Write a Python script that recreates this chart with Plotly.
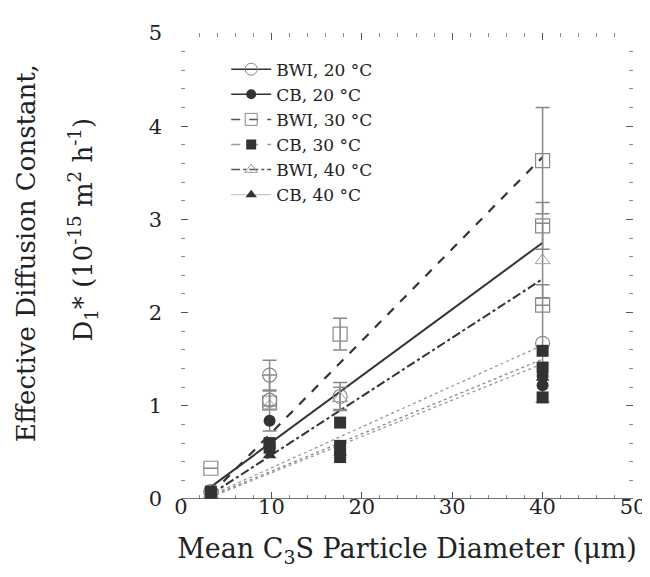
import plotly.graph_objects as go

# ---- data ----
diam = [3.3, 9.8, 17.6, 40.0]

bwi20_x = [3.3, 9.8, 9.8, 17.6, 40.0]
bwi20_y = [0.08, 1.33, 1.06, 1.10, 1.67]
bwi20_e = [0.0, 0.16, 0.10, 0.15, 0.63]

cb20_x = [3.3, 9.8, 17.6, 40.0, 40.0]
cb20_y = [0.05, 0.84, 0.50, 1.32, 1.22]

bwi30_x = [3.3, 9.8, 17.6, 40.0, 40.0, 40.0]
bwi30_y = [0.33, 1.03, 1.77, 3.63, 2.93, 2.08]
bwi30_e = [0.0, 0.30, 0.17, 0.57, 0.25, 0.0]

cb30_x = [3.3, 9.8, 9.8, 17.6, 17.6, 17.6, 40.0, 40.0, 40.0]
cb30_y = [0.08, 0.60, 0.55, 0.82, 0.57, 0.45, 1.59, 1.41, 1.09]

bwi40_x = [3.3, 9.8, 17.6, 40.0]
bwi40_y = [0.05, 1.00, 1.08, 2.56]
bwi40_e = [0.0, 0.0, 0.12, 0.40]

cb40_x = [3.3, 9.8, 17.6, 40.0]
cb40_y = [0.03, 0.47, 0.50, 1.30]

# linear fits: value at first and last diameter
fit_x = [3.3, 40.0]
fit_bwi20 = [0.13, 2.75]
fit_cb20 = [0.04, 1.65]
fit_bwi30 = [0.05, 3.67]
fit_cb30 = [0.03, 1.50]
fit_bwi40 = [0.05, 2.36]
fit_cb40 = [0.02, 1.45]

x_ticks = [0, 10, 20, 30, 40, 50]
y_ticks = [0, 1, 2, 3, 4, 5]

FONT = "DejaVu Serif"
TXT = "#222222"
fig = go.Figure()

# fits
fits = [
    (fit_bwi20, dict(color="#333333", width=2, dash="solid")),
    (fit_bwi30, dict(color="#333333", width=2.2, dash="dash")),
    (fit_bwi40, dict(color="#333333", width=2, dash="dashdot")),
    (fit_cb20, dict(color="#999999", width=1.3, dash="dot")),
    (fit_cb30, dict(color="#888888", width=1.3, dash="dot")),
    (fit_cb40, dict(color="#999999", width=1.3, dash="dot")),
]
for fy, ln in fits:
    fig.add_trace(go.Scatter(x=fit_x, y=fy, mode="lines", line=ln,
                             showlegend=False, hoverinfo="skip"))

# data points
pts = [
    (bwi20_x, bwi20_y, bwi20_e, dict(symbol="circle-open", size=14, color="#8a8a8a", line=dict(width=1.2))),
    (bwi30_x, bwi30_y, bwi30_e, dict(symbol="square-open", size=14, color="#8a8a8a", line=dict(width=1.2))),
    (bwi40_x, bwi40_y, bwi40_e, dict(symbol="triangle-up-open", size=13, color="#a0a0a0", line=dict(width=1))),
    (cb20_x, cb20_y, None, dict(symbol="circle", size=12, color="#333333")),
    (cb30_x, cb30_y, None, dict(symbol="square", size=12, color="#333333")),
    (cb40_x, cb40_y, None, dict(symbol="triangle-up", size=12, color="#333333")),
]
for px, py, pe, mk in pts:
    ey = None
    if pe is not None:
        ey = dict(type="data", array=pe, visible=True, color="#888888", thickness=1.5, width=7)
    fig.add_trace(go.Scatter(x=px, y=py, mode="markers", marker=mk, error_y=ey,
                             showlegend=False))

# legend entries
legend_items = [
    ("BWI, 20 °C", dict(color="#333333", width=1.5, dash="solid"), dict(symbol="circle-open", size=12, color="#888888")),
    ("CB, 20 °C", dict(color="#333333", width=1.5, dash="solid"), dict(symbol="circle", size=10, color="#333333")),
    ("BWI, 30 °C", dict(color="#555555", width=1.5, dash="dash"), dict(symbol="square-open", size=12, color="#888888")),
    ("CB, 30 °C", dict(color="#999999", width=1.5, dash="dash"), dict(symbol="square", size=10, color="#333333")),
    ("BWI, 40 °C", dict(color="#555555", width=1.5, dash="dashdot"), dict(symbol="triangle-up-open", size=11, color="#999999")),
    ("CB, 40 °C", dict(color="#bbbbbb", width=1, dash="solid"), dict(symbol="triangle-up", size=10, color="#333333")),
]
for name, ln, mk in legend_items:
    fig.add_trace(go.Scatter(x=[None], y=[None], mode="lines+markers", name=name,
                             line=ln, marker=mk, showlegend=True))

# bottom axis line
fig.add_shape(type="line", xref="paper", yref="y", x0=0, x1=1, y0=0, y1=0,
              line=dict(color="#444444", width=1.3))

axis_common = dict(showline=False, showgrid=False, zeroline=False, mirror="ticks",
                   ticks="inside", ticklen=7, tickwidth=1.3, tickcolor="#555555",
                   tickfont=dict(family=FONT, size=21, color=TXT))

fig.update_xaxes(range=[0, 50], tickvals=x_ticks, ticktext=[str(v) for v in x_ticks],
                 minor=dict(dtick=2, ticks="inside", ticklen=4, tickcolor="#888888", showgrid=False),
                 title=dict(text="Mean C<sub>3</sub>S Particle Diameter (μm)",
                            font=dict(family=FONT, size=27, color=TXT), standoff=21),
                 ticklabelstandoff=-7,
                 **axis_common)
fig.update_yaxes(range=[0, 5], tickvals=y_ticks, ticktext=[str(v) for v in y_ticks],
                 minor=dict(dtick=0.2, ticks="inside", ticklen=4, tickcolor="#888888", showgrid=False),
                 ticklabelstandoff=18,
                 **axis_common)

fig.add_annotation(text="Effective Diffusion Constant,", textangle=-90,
                   xref="paper", yref="paper", x=-0.342, y=0.528, xanchor="center", yanchor="middle",
                   showarrow=False, font=dict(family=FONT, size=26, color=TXT))
fig.add_annotation(text="D<sub>1</sub>* (10<sup>-15</sup> m<sup>2</sup> h<sup>-1</sup>)", textangle=-90,
                   xref="paper", yref="paper", x=-0.217, y=0.578, xanchor="center", yanchor="middle",
                   showarrow=False, font=dict(family=FONT, size=26, color=TXT))

fig.update_layout(
    width=650, height=577,
    margin=dict(l=173, r=17, t=25, b=86),
    plot_bgcolor="white", paper_bgcolor="white",
    legend=dict(x=0.1, y=0.96, xanchor="left", yanchor="top",
                font=dict(family=FONT, size=17, color=TXT),
                bgcolor="rgba(0,0,0,0)", tracegroupgap=0, itemwidth=40),
)

fig.write_html("out.html")
